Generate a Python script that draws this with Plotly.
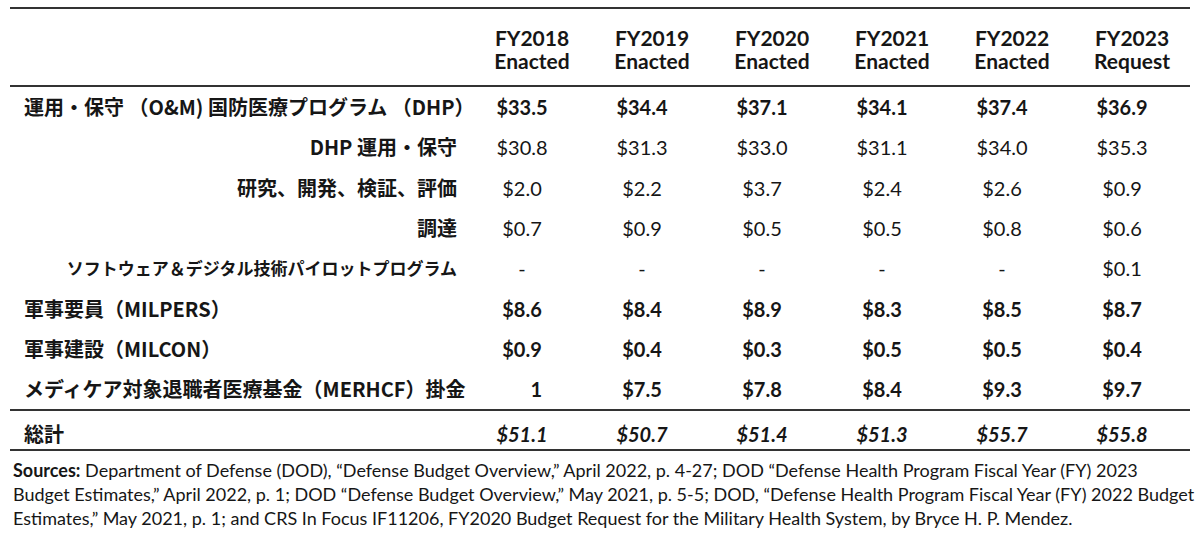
import plotly.graph_objects as go

# ---------------- data ----------------
years = ["FY2018", "FY2019", "FY2020", "FY2021", "FY2022", "FY2023"]
stages = ["Enacted", "Enacted", "Enacted", "Enacted", "Enacted", "Request"]

row_labels = [
    "運用・保守 （O&M) 国防医療プログラム （DHP）",
    "DHP 運用・保守",
    "研究、開発、検証、評価",
    "調達",
    "ソフトウェア＆デジタル技術パイロットプログラム",
    "軍事要員（MILPERS）",
    "軍事建設（MILCON）",
    "メディケア対象退職者医療基金（MERHCF）掛金",
]
row_is_sub = [False, True, True, True, True, False, False, False]
row_is_bold = [True, False, False, False, False, True, True, True]

om_dhp = [33.5, 34.4, 37.1, 34.1, 37.4, 36.9]
dhp_om = [30.8, 31.3, 33.0, 31.1, 34.0, 35.3]
rdte = [2.0, 2.2, 3.7, 2.4, 2.6, 0.9]
procurement = [0.7, 0.9, 0.5, 0.5, 0.8, 0.6]
software = [None, None, None, None, None, 0.1]
milpers = [8.6, 8.4, 8.9, 8.3, 8.5, 8.7]
milcon = [0.9, 0.4, 0.3, 0.5, 0.5, 0.4]
merhcf = [1, 7.5, 7.8, 8.4, 9.3, 9.7]

total_label = "総計"
total = [51.1, 50.7, 51.4, 51.3, 55.7, 55.8]

sources_lines = [
    "<b>Sources:</b> Department of Defense (DOD), “Defense Budget Overview,” April 2022, p. 4-27; DOD “Defense Health Program Fiscal Year (FY) 2023",
    "Budget Estimates,” April 2022, p. 1; DOD “Defense Budget Overview,” May 2021, p. 5-5; DOD, “Defense Health Program Fiscal Year (FY) 2022 Budget",
    "Estimates,” May 2021, p. 1; and CRS In Focus IF11206, FY2020 Budget Request for the Military Health System, by Bryce H. P. Mendez.",
]

series = [om_dhp, dhp_om, rdte, procurement, software, milpers, milcon, merhcf]

# ---------------- styling ----------------
W, H = 1200, 546
TXT = "#161616"
LINE = "#333333"
NUM_FONT = "Lato"
JP_FONT = "Noto Sans CJK JP"
PX_PER_COL = 120.0
COL0_PX = 522.0      # centre of first value column
ROW0_PX = 110.0      # anchor of first body row
PX_PER_ROW = 40.3


def fmt(v):
    if v is None:
        return "-"
    if isinstance(v, int):
        return str(v)
    return f"${v:.1f}"


def px_x(p):
    return (p - COL0_PX) / PX_PER_COL


def px_y(p):
    return (p - ROW0_PX) / PX_PER_ROW


fig = go.Figure()

ncol = len(years)
cols = list(range(ncol))

# header (two lines, centred over each column)
hdr_off = 10 / PX_PER_COL
for txt, yy in [(years, px_y(41)), (stages, px_y(64))]:
    fig.add_trace(go.Scatter(
        x=[c + hdr_off for c in cols], y=[yy] * ncol, mode="text",
        text=[f"<b>{t}</b>" for t in txt], textposition="middle center",
        textfont=dict(family=NUM_FONT, size=21, color=TXT), hoverinfo="skip"))

# row labels
left_x = px_x(24)
right_x = px_x(457)
for r, (lab, sub) in enumerate(zip(row_labels, row_is_sub)):
    size = 17 if len(lab) > 20 and sub else 20
    fig.add_trace(go.Scatter(
        x=[right_x if sub else left_x], y=[r], mode="text",
        text=[f"<b>{lab}</b>"],
        textposition="middle left" if sub else "middle right",
        textfont=dict(family=JP_FONT, size=size, color=TXT), hoverinfo="skip"))
tr = px_y(437)
fig.add_trace(go.Scatter(
    x=[left_x], y=[tr], mode="text", text=[f"<b>{total_label}</b>"],
    textposition="middle right",
    textfont=dict(family=JP_FONT, size=20, color=TXT), hoverinfo="skip"))

# body values
int_off = 20 / PX_PER_COL
for r, (vals, bold) in enumerate(zip(series, row_is_bold)):
    ctr_x, ctr_t, int_x, int_t = [], [], [], []
    for c, v in zip(cols, vals):
        t = fmt(v)
        if bold:
            t = f"<b>{t}</b>"
        if isinstance(v, int):
            int_x.append(c + int_off)
            int_t.append(t)
        else:
            ctr_x.append(c)
            ctr_t.append(t)
    if ctr_x:
        fig.add_trace(go.Scatter(
            x=ctr_x, y=[r] * len(ctr_x), mode="text", text=ctr_t,
            textposition="middle center",
            textfont=dict(family=NUM_FONT, size=20, color=TXT), hoverinfo="skip"))
    if int_x:
        fig.add_trace(go.Scatter(
            x=int_x, y=[r] * len(int_x), mode="text", text=int_t,
            textposition="middle left",
            textfont=dict(family=NUM_FONT, size=20, color=TXT), hoverinfo="skip"))

fig.add_trace(go.Scatter(
    x=cols, y=[tr] * ncol, mode="text",
    text=[f"<b><i>{fmt(v)}</i></b>" for v in total],
    textposition="middle center",
    textfont=dict(family=NUM_FONT, size=20, color=TXT), hoverinfo="skip"))

# rules
x_l = px_x(10)
x_r = px_x(1190)
for p in [8, 86, 410, 450]:
    yy = px_y(p)
    fig.add_shape(type="line", xref="x", yref="y", x0=x_l, x1=x_r, y0=yy, y1=yy,
                  line=dict(color=LINE, width=2.2))

# sources
for i, line in enumerate(sources_lines):
    fig.add_annotation(x=px_x(11), y=px_y(470 + i * 24), xref="x", yref="y",
                       text=line, showarrow=False, xanchor="left", yanchor="middle",
                       font=dict(family=NUM_FONT, size=18, color=TXT))

fig.update_layout(
    width=W, height=H, autosize=False,
    margin=dict(l=0, r=0, t=0, b=0),
    paper_bgcolor="white", plot_bgcolor="white",
    showlegend=False,
    xaxis=dict(range=[px_x(0), px_x(W)], visible=False, fixedrange=True),
    yaxis=dict(range=[px_y(H), px_y(0)], visible=False, fixedrange=True),
)

fig.write_html("out.html", config={"displayModeBar": False},
               post_script="document.body.style.margin='0';document.body.style.overflow='hidden';")
